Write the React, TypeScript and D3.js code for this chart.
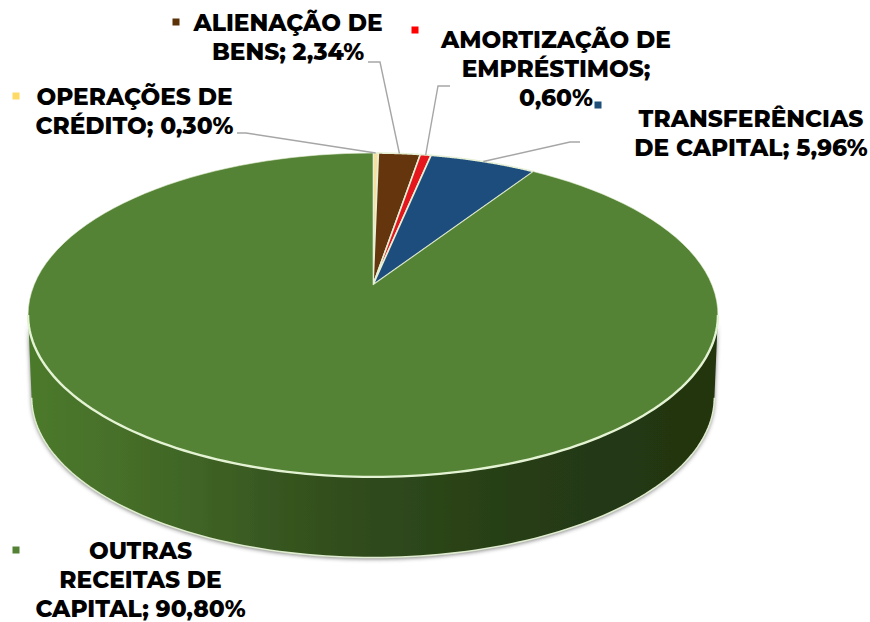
import React from "react";
import * as d3 from "d3";

const categories = ["OPERAÇÕES DE CRÉDITO", "ALIENAÇÃO DE BENS", "AMORTIZAÇÃO DE EMPRÉSTIMOS", "TRANSFERÊNCIAS DE CAPITAL", "OUTRAS RECEITAS DE CAPITAL"];
const values = [0.30, 2.34, 0.60, 5.96, 90.80];
const colors = ["#f6dfa0", "#653407", "#e5151f", "#1f4e7d", "#558334"];
const keyColors = ["#ffd966", "#5c3208", "#ff0000", "#1f4e79", "#548235"];
const labelLines = [
  ["OPERAÇÕES DE", "CRÉDITO; 0,30%"],
  ["ALIENAÇÃO DE", "BENS; 2,34%"],
  ["AMORTIZAÇÃO DE", "EMPRÉSTIMOS;", "0,60%"],
  ["TRANSFERÊNCIAS", "DE CAPITAL; 5,96%"],
  ["OUTRAS", "RECEITAS DE", "CAPITAL; 90,80%"],
];
const labelAnchors = [[134.5, 105], [288, 31], [556, 48], [751, 127], [140.5, 559]];
const keyPos = [[16, 96], [176, 22], [415, 30], [598, 105], [16, 550]];
const leaderElbows = [
  [[237, 133], [246, 133]],
  [[368, 62], [380, 62]],
  [[450, 86], [438, 86]],
  [[580, 142], [570, 142]],
  [],
];

const CX = 373, Y0 = 285, R = 339, S = 156.4, C = -0.185;
const project = (a: number, scale = 1, dy = 0): [number, number] => {
  const u = Math.sin(a) * scale, v = -Math.cos(a) * scale;
  const w = 1 + C * v;
  return [CX + (R * u) / w, Y0 + dy + (S * v) / w];
};
const lineGen = d3.line<[number, number]>();
const sweep = (a0: number, a1: number, scale = 1, dy = 0) =>
  d3.range(0, 121).map((i) => project(a0 + ((a1 - a0) * i) / 120, scale, dy));

const pie = d3.pie<number>().sort(null).startAngle(0).endAngle(2 * Math.PI);
const arcs = pie(values);

const aR = Math.acos(-0.185), aL = 2 * Math.PI - aR;
const DEPTH = 83, BS = 0.99;
const frontTop = sweep(aR, aL);
const frontBottom = sweep(aR, aL, BS, DEPTH);
const wall = lineGen([...frontTop, ...[...frontBottom].reverse()]) + "Z";
const FONT = "Montserrat, Inter, 'Open Sans', sans-serif";

export default function App() {
  return (
    <svg width={870} height={622} style={{ position: "absolute", left: 0, top: 0, background: "#fff" }}>
      <defs>
        <linearGradient id="wallG" gradientUnits="userSpaceOnUse" x1={28} x2={718} y1={0} y2={0}>
          <stop offset="0" stopColor="#4c7a2c" />
          <stop offset="0.12" stopColor="#477029" />
          <stop offset="0.25" stopColor="#3f6325" />
          <stop offset="0.4" stopColor="#34521e" />
          <stop offset="0.5" stopColor="#2f4a1c" />
          <stop offset="0.75" stopColor="#253b14" />
          <stop offset="1" stopColor="#203410" />
        </linearGradient>
        <filter id="shadow" x="-10%" y="-10%" width="120%" height="120%">
          <feGaussianBlur stdDeviation="2.2" />
        </filter>
        <filter id="soft" x="-5%" y="-5%" width="110%" height="110%">
          <feGaussianBlur stdDeviation="0.5" />
        </filter>
      </defs>
      <path d={wall} fill="#444" opacity={0.7} filter="url(#shadow)" transform="translate(0,1.5)" />
      <g filter="url(#soft)">
        <path d={wall} fill="url(#wallG)" />
        <path d={lineGen(frontBottom)!} fill="none" stroke="#dfeccf" strokeWidth={1.6} />
        {arcs.map((d, i) => {
          const rim = sweep(d.startAngle, d.endAngle);
          const apex: [number, number] = [CX, Y0];
          return <path key={i} d={lineGen([apex, ...rim])! + "Z"} fill={colors[i]} stroke="#e6f0d6" strokeWidth={i === 4 ? 0.6 : 1.6} strokeLinejoin="round" />;
        })}
        <path d={lineGen(frontTop)!} fill="none" stroke="#e4f3d4" strokeWidth={2.4} />
      </g>
      {arcs.map((d, i) => {
        if (!leaderElbows[i].length) return null;
        const mid = project((d.startAngle + d.endAngle) / 2);
        const pts = [...leaderElbows[i], mid] as [number, number][];
        return <path key={i} d={lineGen(pts)!} fill="none" stroke="#a6a6a6" strokeWidth={1.4} />;
      })}
      {categories.map((c, i) => (
        <g key={c}>
          <rect x={keyPos[i][0] - 3.5} y={keyPos[i][1] - 3.5} width={7} height={7} fill={keyColors[i]} />
          <text x={labelAnchors[i][0]} y={labelAnchors[i][1]} textAnchor="middle" fontFamily={FONT} fontWeight={800} fontSize={23.3} fill="#000">
            {labelLines[i].map((l, j) => (
              <tspan key={j} x={labelAnchors[i][0]} dy={j === 0 ? 0 : 29}>{l}</tspan>
            ))}
          </text>
        </g>
      ))}
    </svg>
  );
}
